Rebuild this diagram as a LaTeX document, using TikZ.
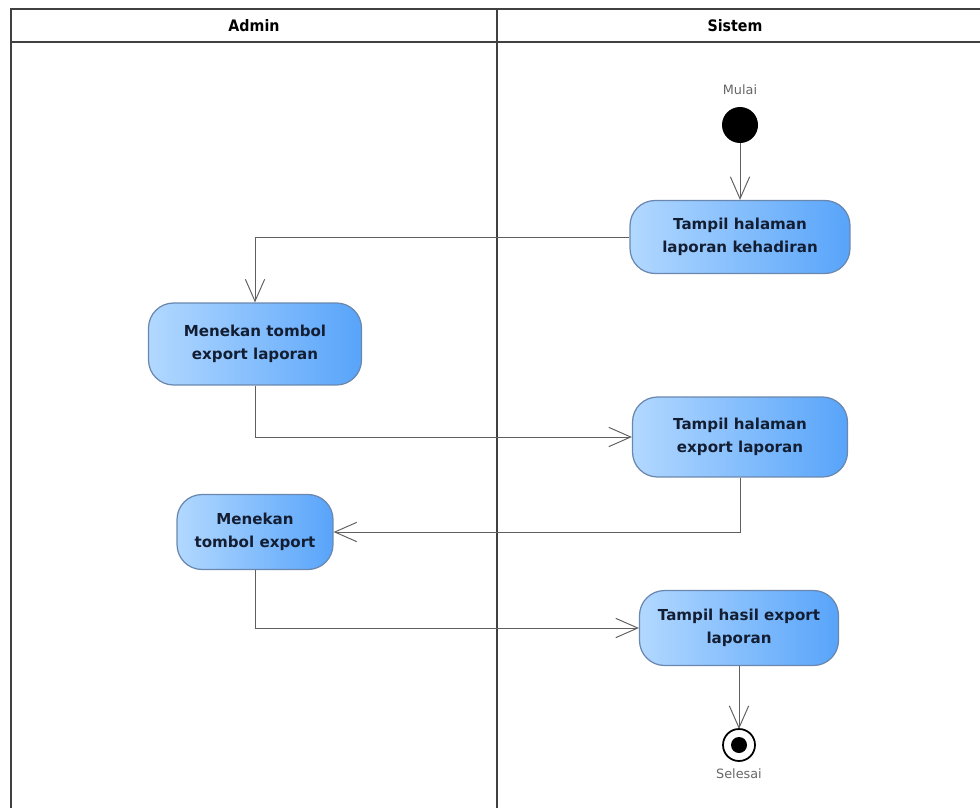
\documentclass[tikz,border=0pt]{standalone}
\usepackage{fontspec}
\setmainfont{DejaVu Sans}
\newfontfamily\headfont{DejaVu Sans Condensed}
\usetikzlibrary{arrows.meta}
\definecolor{actlight}{RGB}{178,216,255}
\definecolor{actdark}{RGB}{88,164,250}
\definecolor{actedge}{RGB}{105,135,175}
\definecolor{acttext}{RGB}{20,30,50}
\definecolor{flowgray}{RGB}{95,95,95}

\begin{document}
\begin{tikzpicture}[x=0.02cm,y=-0.02cm,
    lane/.style={draw=black!75,line width=1.3pt},
    act/.style={draw=actedge,line width=0.7pt,rounded corners=0.5cm,
      left color=actlight,right color=actdark,
      align=center,text=acttext,inner sep=0pt,
      font=\fontsize{8.6}{13}\selectfont\bfseries},
    flow/.style={draw=flowgray,line width=0.55pt,
      -{Straight Barb[length=12.5pt,width=11pt,line width=0.55pt]}},
    lanehead/.style={font=\headfont\fontsize{9}{10}\selectfont\bfseries},
    tag/.style={text=black!60,font=\fontsize{7.3}{8}\selectfont}]
  \useasboundingbox (0,0) rectangle (980,808);

  % swimlanes
  \draw[lane] (11,808) -- (11,9) -- (980,9);
  \draw[lane] (11,42) -- (980,42);
  \draw[lane] (497,9) -- (497,808);
  \node[lanehead] (admin) at (254,26) {Admin};
  \node[lanehead] (sistem) at (735,26) {Sistem};

  % start
  \fill (740,125) circle (18);
  \coordinate (start) at (740,143);
  \node[tag] (mulai) at (740,90) {Mulai};

  % activities
  \node[act,minimum width=4.4cm,minimum height=1.46cm] (halaman) at (740,237)
    {Tampil halaman\\laporan kehadiran};
  \node[act,minimum width=4.26cm,minimum height=1.64cm] (tombol) at (255,344)
    {Menekan tombol\\export laporan};
  \node[act,minimum width=4.3cm,minimum height=1.6cm] (exporthal) at (740,437)
    {Tampil halaman\\export laporan};
  \node[act,minimum width=3.12cm,minimum height=1.5cm] (tekan) at (255,532)
    {Menekan\\tombol export};
  \node[act,minimum width=3.98cm,minimum height=1.5cm] (hasil) at (739,628)
    {Tampil hasil export\\laporan};

  % end
  \draw[line width=1pt] (739,745) circle (16);
  \fill (739,745) circle (8);
  \coordinate (finish) at (739,729);
  \node[tag] (selesai) at (739,774) {Selesai};

  % flows
  \draw[flow] (start) -- (halaman);
  \draw[flow] (halaman.west) -| (tombol.north);
  \draw[flow] (tombol.south) |- (exporthal.west);
  \draw[flow] (exporthal.south) |- (tekan.east);
  \draw[flow] (tekan.south) |- (hasil.west);
  \draw[flow] (hasil.south) -- (finish);
\end{tikzpicture}
\end{document}
